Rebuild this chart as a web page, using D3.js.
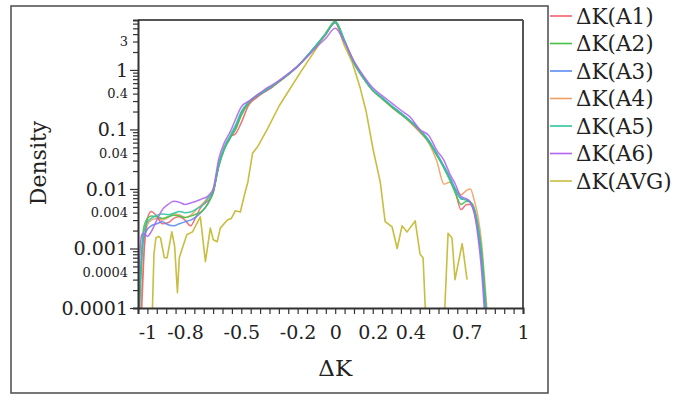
<!DOCTYPE html>
<html>
<head>
<meta charset="utf-8">
<script src="https://cdn.jsdelivr.net/npm/d3@7"></script>
<style>
  html, body { margin: 0; padding: 0; background: #fff; }
  svg { display: block; }
  text { font-family: "DejaVu Serif", "Liberation Serif", serif; fill: #222; }
</style>
</head>
<body>
<svg id="chart" width="688" height="396"></svg>
<script>
// ---------------- data ----------------
const seriesNames = ["ΔK(A1)", "ΔK(A2)", "ΔK(A3)", "ΔK(A4)", "ΔK(A5)", "ΔK(A6)", "ΔK(AVG)"];
const seriesColors = ["#f0606e", "#48c048", "#5a8cf0", "#f0a066", "#30c4a4", "#b066f0", "#c8be40"];

const dk = [-1.05, -1.04, -1.03, -1.02, -1.0, -0.98, -0.95, -0.92, -0.89, -0.86, -0.83, -0.8, -0.77, -0.74, -0.71,
  -0.68, -0.65, -0.62, -0.59, -0.56, -0.53, -0.5, -0.46, -0.42, -0.38, -0.34, -0.3, -0.25, -0.2, -0.15,
  -0.1, -0.05, 0, 0.05, 0.1, 0.15, 0.2, 0.25, 0.3, 0.35, 0.4, 0.45, 0.5, 0.54, 0.58,
  0.61, 0.64, 0.67, 0.7, 0.72, 0.74, 0.76, 0.78, 0.8, 0.82];

const densA1 = [0.00001, 0.00003, 0.0001, 0.0006, 0.0032, 0.0042, 0.0035, 0.0026, 0.0027, 0.0032, 0.0034, 0.003, 0.0024, 0.0035, 0.0052,
  0.0062, 0.0085, 0.026, 0.05, 0.075, 0.085, 0.13, 0.26, 0.34, 0.42, 0.5, 0.63, 0.83, 1.15, 1.7,
  2.6, 4.0, 6.2, 3.0, 1.35, 0.74, 0.45, 0.33, 0.24, 0.18, 0.135, 0.095, 0.062, 0.038, 0.023,
  0.015, 0.009, 0.0045, 0.0055, 0.0055, 0.004, 0.002, 0.0006, 0.00009, 0.00001];

const densA2 = [0.00003, 0.0002, 0.0009, 0.0022, 0.0032, 0.0035, 0.0034, 0.0032, 0.0034, 0.0036, 0.0035, 0.0033, 0.0035, 0.0038, 0.0042,
  0.0055, 0.0088, 0.024, 0.046, 0.072, 0.1, 0.17, 0.28, 0.36, 0.44, 0.52, 0.64, 0.84, 1.15, 1.7,
  2.6, 4.1, 6.6, 3.1, 1.3, 0.72, 0.45, 0.33, 0.24, 0.18, 0.135, 0.095, 0.06, 0.037, 0.022,
  0.014, 0.0085, 0.0055, 0.0062, 0.006, 0.0048, 0.0025, 0.0009, 0.00015, 0.00002];

const densA3 = [0.00004, 0.0002, 0.0007, 0.0015, 0.0021, 0.0024, 0.0026, 0.0028, 0.0025, 0.0024, 0.0026, 0.0028, 0.003, 0.0034, 0.0042,
  0.0055, 0.009, 0.024, 0.048, 0.07, 0.11, 0.19, 0.29, 0.36, 0.43, 0.52, 0.64, 0.84, 1.15, 1.7,
  2.6, 4.0, 6.3, 3.0, 1.35, 0.75, 0.46, 0.34, 0.25, 0.19, 0.14, 0.1, 0.065, 0.04, 0.024,
  0.016, 0.01, 0.007, 0.0065, 0.006, 0.0045, 0.002, 0.0006, 0.00008, 0.00001];

const densA4 = [0.00001, 0.00005, 0.0002, 0.0008, 0.0025, 0.003, 0.0032, 0.003, 0.0033, 0.0038, 0.0037, 0.0033, 0.0036, 0.0045, 0.0055,
  0.007, 0.0092, 0.025, 0.05, 0.074, 0.105, 0.18, 0.28, 0.35, 0.43, 0.51, 0.63, 0.83, 1.14, 1.68,
  2.55, 3.9, 6.4, 3.0, 1.3, 0.73, 0.45, 0.33, 0.24, 0.18, 0.13, 0.09, 0.058, 0.03, 0.012,
  0.013, 0.01, 0.008, 0.0095, 0.01, 0.0065, 0.0035, 0.0012, 0.0002, 0.00003];

const densA5 = [0.00002, 0.00015, 0.0007, 0.0018, 0.0028, 0.0032, 0.0036, 0.0038, 0.0037, 0.0039, 0.0042, 0.004, 0.0041, 0.0046, 0.0052,
  0.0068, 0.0095, 0.026, 0.05, 0.078, 0.12, 0.2, 0.29, 0.37, 0.44, 0.53, 0.65, 0.85, 1.17, 1.72,
  2.65, 4.1, 6.4, 3.1, 1.33, 0.74, 0.46, 0.34, 0.25, 0.185, 0.138, 0.098, 0.063, 0.039, 0.023,
  0.015, 0.0095, 0.0068, 0.0065, 0.0058, 0.0046, 0.0024, 0.0008, 0.00012, 0.00002];

const densA6 = [0.0001, 0.0008, 0.0017, 0.0018, 0.0016, 0.0019, 0.003, 0.0045, 0.0055, 0.0062, 0.006, 0.0055, 0.0058, 0.0062, 0.0068,
  0.0075, 0.01, 0.032, 0.06, 0.09, 0.15, 0.24, 0.3, 0.37, 0.46, 0.55, 0.66, 0.87, 1.15, 1.65,
  2.4, 3.4, 5.0, 2.9, 1.4, 0.8, 0.5, 0.37, 0.28, 0.21, 0.16, 0.1, 0.078, 0.045, 0.03,
  0.018, 0.012, 0.0075, 0.0068, 0.006, 0.004, 0.0016, 0.0004, 0.00005, 0.00001];

const avgK = [-0.985, -0.975, -0.965, -0.955, -0.94, -0.93, -0.91, -0.895, -0.87, -0.855, -0.84, -0.83, -0.81, -0.79, -0.76,
  -0.718, -0.691, -0.665, -0.649, -0.628, -0.612, -0.574, -0.553, -0.532, -0.505, -0.479, -0.465, -0.44, -0.415, -0.362,
  -0.298, -0.255, -0.186, -0.1, -0.05, 0, 0.048, 0.09, 0.133, 0.165, 0.202, 0.24, 0.266, 0.282, 0.303,
  0.33, 0.356, 0.383, 0.426, 0.452, 0.468, 0.489, 0.574, 0.601, 0.622, 0.638, 0.676, 0.68, 0.702];

const avgDens = [0.00002, 0.00006, 0.0008, 0.0015, 0.0016, 0.0015, 0.0007, 0.0007, 0.0019, 0.0011, 0.00018, 0.0007, 0.0011, 0.0017, 0.0019,
  0.0034, 0.0006, 0.0022, 0.0014, 0.0013, 0.0022, 0.003, 0.0032, 0.0043, 0.0041, 0.009, 0.013, 0.04, 0.05, 0.1,
  0.25, 0.41, 0.9, 2.3, 4.2, 7.0, 2.6, 1.36, 0.5, 0.2, 0.046, 0.013, 0.0028, 0.0026, 0.0023,
  0.001, 0.0024, 0.0019, 0.0029, 0.0008, 0.0007, 0.00002, 0.00002, 0.0018, 0.0015, 0.0003, 0.0012, 0.001, 0.0003];

const xTickLabels = [-1, -0.8, -0.5, -0.2, 0, 0.2, 0.4, 0.7, 1];
const yMajorLabels = [1, 0.1, 0.01, 0.001, 0.0001];
const yMinorLabels = [3, 0.4, 0.04, 0.004, 0.0004];

// ---------------- layout ----------------
const svg = d3.select("#chart");
const L = 138, R = 523, T = 20, B = 308;

const x = d3.scaleLinear().domain([-1.05, 1]).range([L, R]);
const y = d3.scaleLog().domain([0.0001, 6.9]).range([B, T]);

// outer frame
svg.append("rect").attr("x", 11).attr("y", 6).attr("width", 537).attr("height", 387)
  .attr("fill", "none").attr("stroke", "#555").attr("stroke-width", 1.6);

// clip
svg.append("defs").append("clipPath").attr("id", "plotclip")
  .append("rect").attr("x", L).attr("y", T).attr("width", R - L).attr("height", B - T);

// series
const seriesData = [densA1, densA2, densA3, densA4, densA5, densA6].map(arr => dk.map((k, i) => [k, arr[i]]));
seriesData.push(avgK.map((k, i) => [k, avgDens[i]]));

const lineSmooth = d3.line().x(d => x(d[0])).y(d => y(d[1])).curve(d3.curveMonotoneX);
const lineRaw = d3.line().x(d => x(d[0])).y(d => y(d[1]));

const gLines = svg.append("g").attr("clip-path", "url(#plotclip)");
gLines.append("path").datum(seriesData[6])
  .attr("d", lineRaw).attr("fill", "none")
  .attr("stroke", seriesColors[6]).attr("stroke-width", 1.6).attr("stroke-linejoin", "round");
[3, 0, 2, 1, 4, 5].forEach(i => {
  gLines.append("path").datum(seriesData[i])
    .attr("d", lineSmooth).attr("fill", "none")
    .attr("stroke", seriesColors[i]).attr("stroke-width", 1.5).attr("stroke-opacity", 0.9);
});

// frame top/right
svg.append("line").attr("x1", L).attr("x2", R).attr("y1", T).attr("y2", T)
  .attr("stroke", "#555").attr("stroke-width", 2);
svg.append("line").attr("x1", R).attr("x2", R).attr("y1", T).attr("y2", B)
  .attr("stroke", "#555").attr("stroke-width", 2);

// x axis
const xTicks = d3.range(-21, 21).map(i => +(i * 0.05).toFixed(2));
const xAxis = d3.axisBottom(x).tickValues(xTicks).tickSizeOuter(0).tickSize(6)
  .tickFormat(d => xTickLabels.some(v => Math.abs(v - d) < 1e-9) ? String(d) : "");
const gx = svg.append("g").attr("transform", `translate(0,${B})`).call(xAxis);
gx.select(".domain").attr("stroke", "#333").attr("stroke-width", 2);
gx.selectAll(".tick line").attr("stroke", "#333").attr("stroke-width", 1.2);
gx.selectAll(".tick text").attr("font-size", 19).attr("dy", "1.15em").attr("fill", "#222")
  .style("font-family", "'DejaVu Serif', serif");

// y axis
const yTicks = [];
for (let e = -4; e <= 0; e++) {
  for (let m = 1; m <= 9; m++) {
    const v = +(m * Math.pow(10, e)).toPrecision(3);
    if (v <= 6.9) yTicks.push(v);
  }
}
const isIn = (arr, d) => arr.some(v => Math.abs(v - d) / v < 1e-6);
const yAxis = d3.axisLeft(y).tickValues(yTicks).tickSizeOuter(0).tickSize(5)
  .tickFormat(d => (isIn(yMajorLabels, d) || isIn(yMinorLabels, d)) ? String(d) : "");
const gy = svg.append("g").attr("transform", `translate(${L},0)`).call(yAxis);
gy.select(".domain").attr("stroke", "#333").attr("stroke-width", 2);
gy.selectAll(".tick line").attr("stroke", "#333").attr("stroke-width", 1.2)
  .attr("x2", d => isIn(yMajorLabels, d) ? -8 : -5);
gy.selectAll(".tick text")
  .attr("font-size", d => isIn(yMajorLabels, d) ? 19 : 13)
  .attr("x", -10).attr("fill", "#222")
  .style("font-family", "'DejaVu Serif', serif");

// axis titles
svg.append("text").attr("x", x(0)).attr("y", 376).attr("text-anchor", "middle")
  .attr("font-size", 23).text("ΔK");
svg.append("text").attr("transform", "translate(46,163) rotate(-90)").attr("text-anchor", "middle")
  .attr("font-size", 22).text("Density");

// legend
const lg = svg.append("g");
seriesNames.forEach((name, i) => {
  const yy = 16 + i * 27.5;
  lg.append("line").attr("x1", 550).attr("x2", 572).attr("y1", yy).attr("y2", yy)
    .attr("stroke", seriesColors[i]).attr("stroke-width", 1.6);
  lg.append("text").attr("x", 576).attr("y", yy + 7.5).attr("font-size", 21.5).text(name);
});
</script>
</body>
</html>
